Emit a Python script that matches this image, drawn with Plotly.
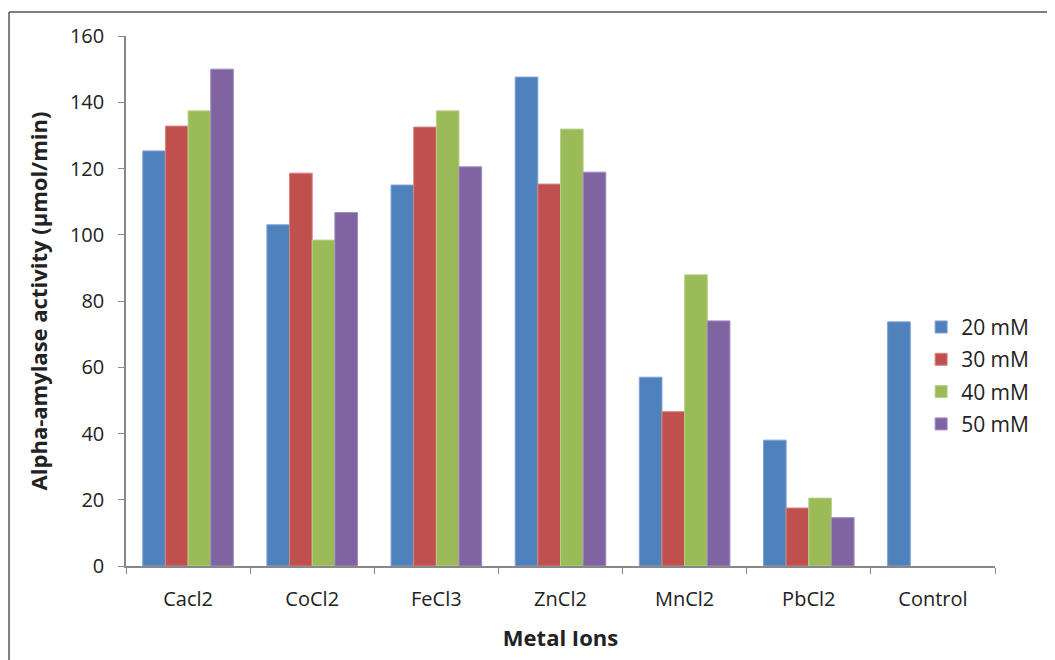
import plotly.graph_objects as go

categories = ["Cacl2", "CoCl2", "FeCl3", "ZnCl2", "MnCl2", "PbCl2", "Control"]
series_names = ["20 mM", "30 mM", "40 mM", "50 mM"]
v20 = [125.3, 103.0, 115.0, 147.6, 57.0, 38.0, 73.7]
v30 = [132.8, 118.6, 132.5, 115.3, 46.6, 17.5, None]
v40 = [137.4, 98.4, 137.4, 131.9, 87.9, 20.5, None]
v50 = [150.0, 106.7, 120.5, 118.9, 74.0, 14.6, None]
colors = ["#4F81BD", "#C0504D", "#9BBB59", "#8064A2"]
edge = ["#7FA3D3", "#D58583", "#B9D18A", "#A28DC0"]

fig = go.Figure()
for name, vals, c, e in zip(series_names, [v20, v30, v40, v50], colors, edge):
    fig.add_trace(go.Bar(x=categories, y=vals, name=name, marker_color=c,
                         legendgroup=name,
                         marker_line=dict(color=e, width=1)))

fig.update_layout(
    width=1047, height=652,
    barmode="group", bargap=0.27, bargroupgap=0,
    plot_bgcolor="white", paper_bgcolor="white",
    margin=dict(l=118, r=60, t=28, b=94),
    font=dict(family="Open Sans", size=20, color="#222"),
    legend=dict(x=0.915, y=0.489, xanchor="left", yanchor="top",
                font=dict(size=21), itemwidth=30, tracegroupgap=2,
                traceorder="grouped",
                bgcolor="rgba(0,0,0,0)"),
    xaxis=dict(title=dict(text="<b>Metal Ions</b>", font=dict(size=22), standoff=20),
               showline=True, linecolor="#888", linewidth=1.5,
               ticks="outside", tickson="boundaries", ticklen=6, tickcolor="#888",
               ticklabelstandoff=14, showgrid=False),
    yaxis=dict(title=dict(text="<b>Alpha-amylase activity (µmol/min)</b>", font=dict(size=22), standoff=16),
               range=[0, 160], dtick=20, showline=True, linecolor="#888", linewidth=1.5,
               ticks="outside", ticklen=6, tickcolor="#888", ticklabelstandoff=10,
               showgrid=False, zeroline=False),
)
fig.add_shape(type="line", xref="paper", yref="paper",
              x0=-0.1346, x1=1.08, y0=1.0453, y1=1.0453,
              line=dict(color="#555", width=1.5), layer="below")
fig.add_shape(type="line", xref="paper", yref="paper",
              x0=-0.1346, x1=-0.1346, y0=1.0453, y1=-0.2,
              line=dict(color="#555", width=1.5), layer="below")
fig.write_html("out.html")
